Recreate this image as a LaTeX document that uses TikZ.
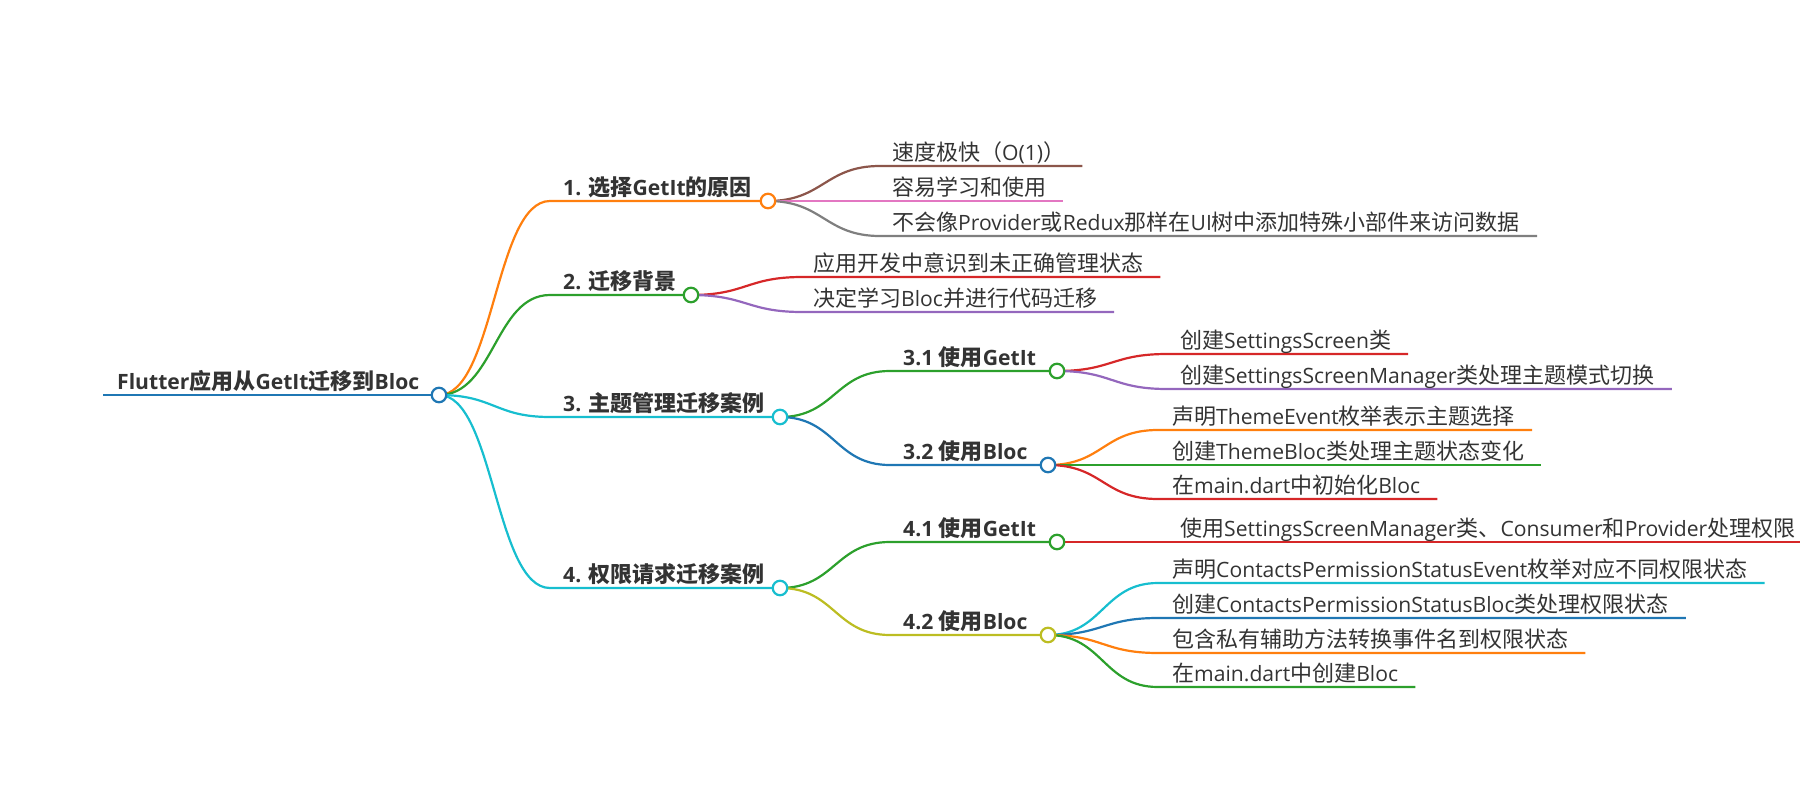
\documentclass[tikz,border=0pt]{standalone}
\usepackage{fontspec}
\setmainfont{Noto Sans CJK SC}
\newfontfamily\en[Scale=0.96]{Open Sans}
\usetikzlibrary{positioning, calc}

\definecolor{cBlue}{HTML}{1F77B4}
\definecolor{cOrange}{HTML}{FF7F0E}
\definecolor{cGreen}{HTML}{2CA02C}
\definecolor{cRed}{HTML}{D62728}
\definecolor{cPurple}{HTML}{9467BD}
\definecolor{cBrown}{HTML}{8C564B}
\definecolor{cPink}{HTML}{E377C2}
\definecolor{cGray}{HTML}{7F7F7F}
\definecolor{cOlive}{HTML}{BCBD22}
\definecolor{cCyan}{HTML}{17BECF}
\definecolor{txtgray}{HTML}{333333}

\pgfdeclarelayer{links}
\pgfsetlayers{links,main}

\tikzset{
  leaf/.style={font=\fontsize{22}{26}\selectfont, text=txtgray, inner sep=0pt, anchor=base west},
  head/.style={leaf, font=\fontsize{22}{26}\selectfont\bfseries},
  dot/.style={circle, draw=#1, fill=white, line width=2.2pt, minimum size=14.5pt, inner sep=0pt},
  branch/.style={line width=2.2pt, out=0, in=180, distance=55pt},
}

\begin{document}
\begin{tikzpicture}[x=1pt,y=-1pt]
      \useasboundingbox (0,0) rectangle (1800,800);

      % root
      \coordinate (s0) at (103,395);
      \node[head] (t0) at (117,389) {{\en Flutter}应用从{\en GetIt}迁移到{\en Bloc}};
      \node[dot=cBlue] (c0) at (439,395) {};

      % first level
      \coordinate (s1) at (550,201);
      \coordinate (s2) at (550,295);
      \coordinate (s3) at (550,417);
      \coordinate (s4) at (550,588);
      \node[head] (t1) at (563,195) {{\en 1. }选择{\en GetIt}的原因};
      \node[head] (t2) at (563,289) {{\en 2. }迁移背景};
      \node[head] (t3) at (563,411) {{\en 3. }主题管理迁移案例};
      \node[head] (t4) at (563,582) {{\en 4. }权限请求迁移案例};
      \node[dot=cOrange] (c1) at (768,201) {};
      \node[dot=cGreen] (c2) at (691,295) {};
      \node[dot=cCyan] (c3) at (780,417) {};
      \node[dot=cCyan] (c4) at (780,588) {};

      % leaves of 1 and 2
      \coordinate (s11) at (880,166);
      \coordinate (s12) at (880,201);
      \coordinate (s13) at (880,236);
      \node[leaf] (t11) at (892,160) {速度极快（{\en O(1)}）};
      \node[leaf] (t12) at (892,195) {容易学习和使用};
      \node[leaf] (t13) at (892,230) {不会像{\en Provider}或{\en Redux}那样在{\en UI}树中添加特殊小部件来访问数据};
      \coordinate (s21) at (802,277);
      \coordinate (s22) at (802,312);
      \node[leaf] (t21) at (813,271) {应用开发中意识到未正确管理状态};
      \node[leaf] (t22) at (813,306) {决定学习{\en Bloc}并进行代码迁移};

      % second level under 3 and 4
      \coordinate (s31) at (890,371);
      \coordinate (s32) at (890,465);
      \coordinate (s41) at (890,542);
      \coordinate (s42) at (890,635);
      \node[head] (t31) at (903,365) {{\en 3.1 }使用{\en GetIt}};
      \node[head] (t32) at (903,459) {{\en 3.2 }使用{\en Bloc}};
      \node[head] (t41) at (903,536) {{\en 4.1 }使用{\en GetIt}};
      \node[head] (t42) at (903,629) {{\en 4.2 }使用{\en Bloc}};
      \node[dot=cGreen] (c31) at (1057,371) {};
      \node[dot=cBlue] (c32) at (1048,465) {};
      \node[dot=cGreen] (c41) at (1057,542) {};
      \node[dot=cOlive] (c42) at (1048,635) {};

      % leaves of 3.1 and 3.2
      \coordinate (s311) at (1167,354);
      \coordinate (s312) at (1167,389);
      \node[leaf] (t311) at (1180,348) {创建{\en SettingsScreen}类};
      \node[leaf] (t312) at (1180,383) {创建{\en SettingsScreenManager}类处理主题模式切换};
      \coordinate (s321) at (1158,430);
      \coordinate (s322) at (1158,465);
      \coordinate (s323) at (1158,499);
      \node[leaf] (t321) at (1172,424) {声明{\en ThemeEvent}枚举表示主题选择};
      \node[leaf] (t322) at (1172,459) {创建{\en ThemeBloc}类处理主题状态变化};
      \node[leaf] (t323) at (1172,493) {在{\en main.dart}中初始化{\en Bloc}};

      % leaves of 4.1 and 4.2
      \coordinate (s411) at (1167,542);
      \node[leaf] (t411) at (1180,536) {使用{\en SettingsScreenManager}类、{\en Consumer}和{\en Provider}处理权限};
      \coordinate (s421) at (1158,583);
      \coordinate (s422) at (1158,618);
      \coordinate (s423) at (1158,653);
      \coordinate (s424) at (1158,687);
      \node[leaf] (t421) at (1172,577) {声明{\en ContactsPermissionStatusEvent}枚举对应不同权限状态};
      \node[leaf] (t422) at (1172,612) {创建{\en ContactsPermissionStatusBloc}类处理权限状态};
      \node[leaf] (t423) at (1172,647) {包含私有辅助方法转换事件名到权限状态};
      \node[leaf] (t424) at (1172,681) {在{\en main.dart}中创建{\en Bloc}};

      \begin{pgfonlayer}{links}
      \draw[branch, cBlue, line width=2.8pt] (s0) -- (c0.center);

      \draw[branch, cOrange] (c0.center) to (s1) -- (c1.center);
      \draw[branch, cGreen] (c0.center) to (s2) -- (c2.center);
      \draw[branch, cCyan] (c0.center) to (s3) -- (c3.center);
      \draw[branch, cCyan] (c0.center) to (s4) -- (c4.center);

      \draw[branch, cBrown] (c1.center) to (s11) -- ($(t11.east |- s11)+(17,0)$);
      \draw[branch, cPink] (c1.center) to (s12) -- ($(t12.east |- s12)+(17,0)$);
      \draw[branch, cGray] (c1.center) to (s13) -- ($(t13.east |- s13)+(17,0)$);
      \draw[branch, cRed] (c2.center) to (s21) -- ($(t21.east |- s21)+(17,0)$);
      \draw[branch, cPurple] (c2.center) to (s22) -- ($(t22.east |- s22)+(17,0)$);

      \draw[branch, cGreen] (c3.center) to (s31) -- (c31.center);
      \draw[branch, cBlue] (c3.center) to (s32) -- (c32.center);
      \draw[branch, cGreen] (c4.center) to (s41) -- (c41.center);
      \draw[branch, cOlive] (c4.center) to (s42) -- (c42.center);

      \draw[branch, cRed] (c31.center) to (s311) -- ($(t311.east |- s311)+(17,0)$);
      \draw[branch, cPurple] (c31.center) to (s312) -- ($(t312.east |- s312)+(17,0)$);
      \draw[branch, cOrange] (c32.center) to (s321) -- ($(t321.east |- s321)+(17,0)$);
      \draw[branch, cGreen] (c32.center) to (s322) -- ($(t322.east |- s322)+(17,0)$);
      \draw[branch, cRed] (c32.center) to (s323) -- ($(t323.east |- s323)+(17,0)$);

      \draw[branch, cRed] (c41.center) to (s411) -- ($(t411.east |- s411)+(17,0)$);
      \draw[branch, cCyan] (c42.center) to (s421) -- ($(t421.east |- s421)+(17,0)$);
      \draw[branch, cBlue] (c42.center) to (s422) -- ($(t422.east |- s422)+(17,0)$);
      \draw[branch, cOrange] (c42.center) to (s423) -- ($(t423.east |- s423)+(17,0)$);
      \draw[branch, cGreen] (c42.center) to (s424) -- ($(t424.east |- s424)+(17,0)$);
      \end{pgfonlayer}

\end{tikzpicture}
\end{document}
